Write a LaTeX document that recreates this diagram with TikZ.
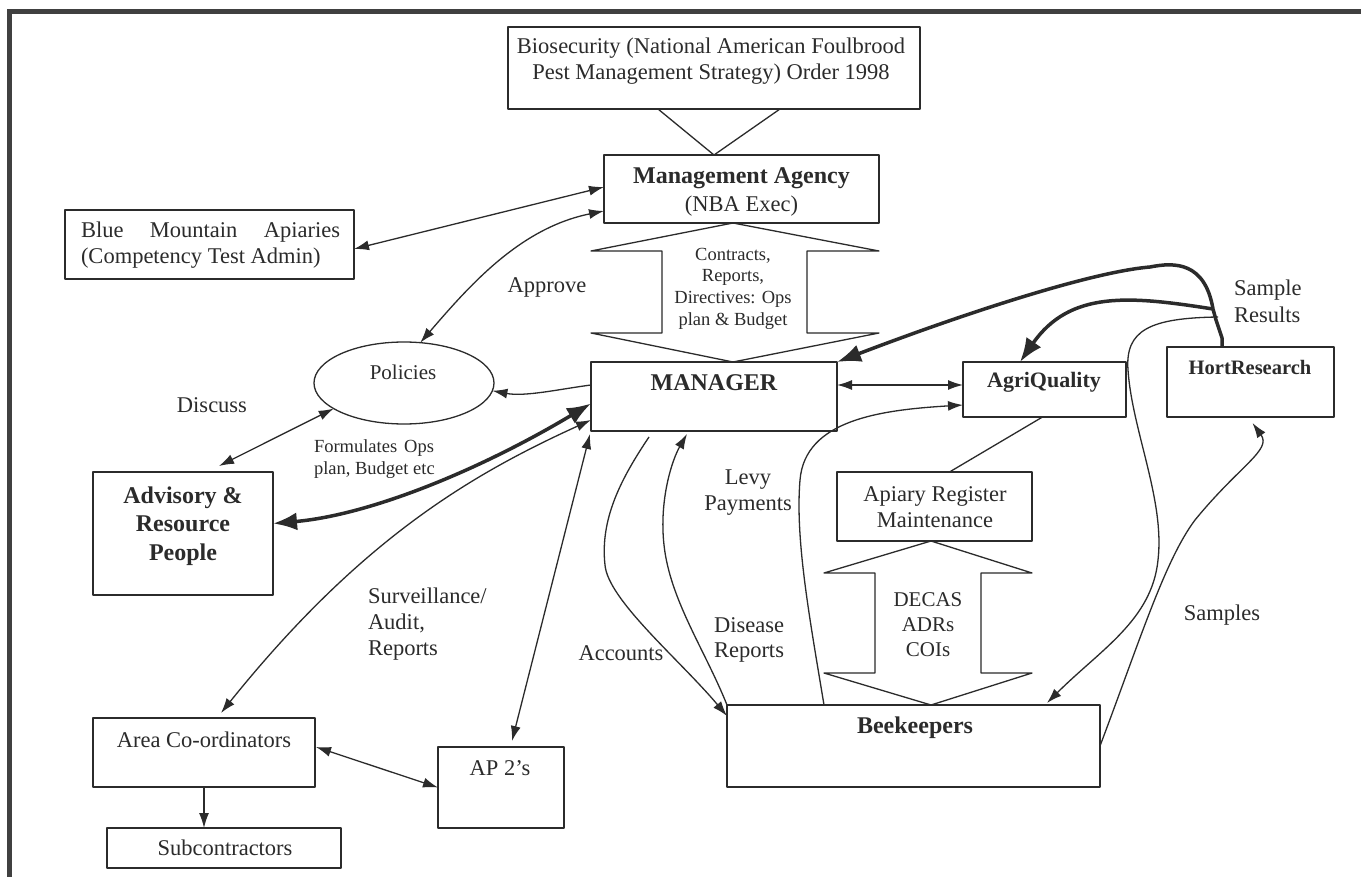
\documentclass[tikz,border=0pt]{standalone}
\usepackage{fontspec}
\setmainfont{Liberation Serif}
\usetikzlibrary{arrows.meta,calc,shapes.geometric}
\definecolor{ink}{HTML}{2B2B2B}
\begin{document}
\begin{tikzpicture}[x=1pt,y=-1pt, line join=round,
  every node/.style={text=ink, inner sep=0pt, outer sep=0pt},
  box/.style={draw=ink, line width=1.3pt},
  reg/.style={font=\fontsize{22.5}{26}\selectfont, align=center},
  sml/.style={font=\fontsize{18.5}{21.7}\selectfont, align=center},
  bld/.style={font=\fontsize{24}{28.5}\selectfont\bfseries, align=center},
  ln/.style={draw=ink, line width=1.3pt},
  arr/.style={ln, -{Latex[length=15pt,width=10pt]}},
  darr/.style={ln, {Latex[length=15pt,width=10pt]}-{Latex[length=15pt,width=10pt]}},
  tarr/.style={draw=ink, line width=3.5pt, -{Latex[length=24pt,width=18pt]}},
  tdarr/.style={draw=ink, line width=3.5pt, {Latex[length=24pt,width=18pt]}-{Latex[length=24pt,width=18pt]}},
]
\useasboundingbox (0,0) rectangle (1361,877);
\fill[white] (0,0) rectangle (1361,877);
\draw[draw=black!75, line width=5pt, line join=miter] (9.5,877) -- (9.5,12) -- (1361,12);

% boxes
\node[box, minimum width=412pt, minimum height=82pt] (bio) at (714,68) {};
\node[box, minimum width=275pt, minimum height=68pt] (ma) at (741.5,189) {};
\node[box, minimum width=246pt, minimum height=69pt] (mgr) at (714,396.5) {};
\node[box, minimum width=163pt, minimum height=55pt] (agri) at (1044.5,389.5) {};
\node[box, minimum width=167pt, minimum height=70pt] (hort) at (1250.5,382) {};
\node[box, minimum width=289pt, minimum height=69pt] (blue) at (209.5,244.5) {};
\node[box, ellipse, minimum width=180pt, minimum height=82pt] (pol) at (404,383) {};
\node[box, minimum width=180pt, minimum height=123pt] (adv) at (183,533.5) {};
\node[box, minimum width=222pt, minimum height=69pt] (area) at (204,752.5) {};
\node[box, minimum width=126pt, minimum height=81pt] (ap2) at (501,787.5) {};
\node[box, minimum width=234pt, minimum height=40pt] (sub) at (224,848) {};
\node[box, minimum width=195pt, minimum height=69pt] (api) at (934.5,506.5) {};
\node[box, minimum width=373pt, minimum height=82pt] (bee) at (913.5,746) {};

% texts in boxes
\node[reg] (biot) at (711,61) {Biosecurity (National American Foulbrood\\Pest Management Strategy) Order 1998};
\node[font=\fontsize{24}{28}\selectfont\bfseries] (mat1) at (741.5,178) {Management Agency};
\node[reg] (mat2) at (741.5,206) {(NBA Exec)};
\node[bld] (mgrt) at (714,383) {MANAGER};
\node[font=\fontsize{22}{26}\selectfont\bfseries] (agrit) at (1044,382) {AgriQuality};
\node[font=\fontsize{20.5}{24}\selectfont\bfseries] (hortt) at (1250,367) {HortResearch};
\node[reg, align=left, anchor=west] (bluet) at (81,245.5) {\makebox[259pt][s]{Blue Mountain Apiaries}\\(Competency Test Admin)};
\node[font=\fontsize{21}{25}\selectfont] (polt) at (403,372) {Policies};
\node[bld] (advt) at (183,526) {Advisory \&\\Resource\\People};
\node[reg] (areat) at (204,740) {Area Co-ordinators};
\node[reg] (ap2t) at (500,768) {AP 2’s};
\node[reg] (subt) at (225,848) {Subcontractors};
\node[reg] (apit) at (935,507.5) {Apiary Register\\Maintenance};
\node[bld] (beet) at (915,728) {Beekeepers};

% block arrows
\draw[ln] ($(ma.south west)+(129,0)$) -- (591,251) -- (662,251) -- (662,333) -- (591,333) -- ($(mgr.north west)+(142,0)$) -- (879,333) -- (807,333) -- (807,251) -- (879,251) -- cycle;
\draw[ln] ($(api.south west)+(94,0)$) -- (824,573) -- (875,573) -- (875,673) -- (824,673) -- ($(bee.north west)+(204,0)$) -- (1032,673) -- (981,673) -- (981,573) -- (1032,573) -- cycle;
\node[sml] (crt) at (733,288.5) {Contracts,\\Reports,\\Directives: Ops\\plan \& Budget};
\node[font=\fontsize{21}{25}\selectfont, align=center] (decast) at (928,625) {DECAS\\ADRs\\COIs};

% V from act to agency
\draw[ln] ($(bio.south west)+(150,0)$) -- ($(ma.north west)+(110,0)$) -- ($(bio.south west)+(272,0)$);

% connectors
\draw[darr] ($(blue.east)+(0,4.5)$) -- ($(ma.north west)+(0,32)$);
\draw[darr] (pol.68) .. controls (470,285) and (520,228) .. ($(ma.north west)+(0,56)$);
\draw[darr] (pol.200) -- ($(adv.north)+(36,-6)$);
\draw[arr] ($(mgr.north west)+(0,23)$) .. controls (560,389) and (525,397) .. (pol.-5);
\draw[tdarr] ($(adv.east)+(0,-10)$) .. controls (370,515) and (480,470) .. ($(mgr.west)+(0,7)$);
\draw[darr] ($(mgr.west)+(0,23.5)$) .. controls (470,475) and (360,540) .. ($(area.north)+(17,-5)$);
\draw[darr] ($(mgr.south west)+(-1,3)$) -- ($(ap2.north)+(11,-6)$);
\draw[darr] ($(area.east)+(1,-5.5)$) -- (ap2.west);
\draw[arr] (area.south) -- (area.south |- sub.north);
\draw[darr] ($(mgr.north east)+(0,23)$) -- ($(agri.north west)+(0,23)$);
\draw[arr] ($(mgr.south west)+(58,6)$) .. controls (620,480) and (600,520) .. (605,565) .. controls (608,600) and (680,660) .. ($(bee.north west)+(0,11)$);
\draw[arr] (bee.north west) .. controls (705,650) and (670,600) .. (664,545) .. controls (659,500) and (672,460) .. ($(mgr.south west)+(96,3)$);
\draw[arr] ($(bee.north west)+(97,0)$) .. controls (810,620) and (795,540) .. (800,480) .. controls (805,420) and (880,410) .. ($(agri.south west)+(0,-12)$);
\draw[ln] ($(agri.south)+(-2,0)$) -- ($(api.north)+(15,0)$);

% sample results
\coordinate (srj) at (1213,309);
\coordinate (srk) at (1218,317);
\draw[draw=ink, line width=3.5pt] ($(hort.north west)+(55,0)$) -- ++(0,-9) -- (1216,320) -- (srj);
\draw[tarr] (srj) .. controls (1205,262) and (1175,262) .. (1150,267) .. controls (1090,272) and (960,315) .. (mgr.north east);
\draw[tarr] (srj) .. controls (1130,296) and (1070,290) .. ($(agri.north west)+(57,0)$);
\draw[arr] (srk) .. controls (1150,318) and (1125,330) .. (1128,370) .. controls (1132,430) and (1165,500) .. (1158,560) .. controls (1152,620) and (1100,650) .. ($(bee.north east)+(-53,-2)$);
\draw[arr] (bee.east) .. controls (1140,640) and (1165,560) .. (1195,520) .. controls (1240,465) and (1272,450) .. ($(hort.south)+(2,6)$);

% labels
\node[reg] (approvet) at (547,287) {Approve};
\node[reg] (discusst) at (212,405) {Discuss};
\node[sml, align=left, anchor=west] (formt) at (314,459) {\makebox[120pt][s]{Formulates Ops}\\plan, Budget etc};
\node[reg, align=left, anchor=west] (survt) at (368,624) {Surveillance/\\Audit,\\Reports};
\node[reg] (accountst) at (621,653) {Accounts};
\node[reg] (levyt) at (748,493) {Levy\\Payments};
\node[font=\fontsize{22.5}{25}\selectfont, align=center] (diseaset) at (749,639.5) {Disease\\Reports};
\node[reg] (samplest) at (1222,615) {Samples};
\node[font=\fontsize{22.5}{27}\selectfont, align=left, anchor=west] (srt) at (1234,301.5) {Sample\\Results};
\end{tikzpicture}
\end{document}
